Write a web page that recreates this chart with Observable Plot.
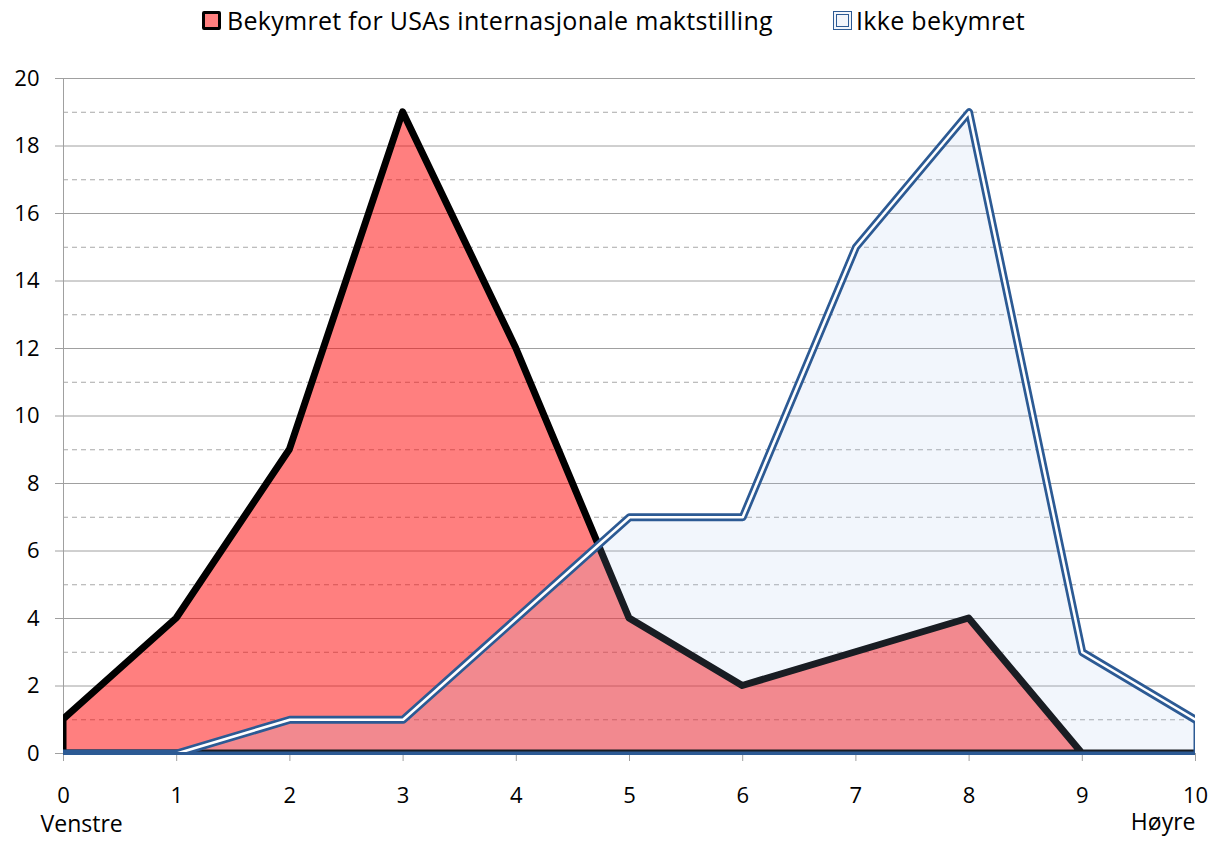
<!DOCTYPE html>
<html><head><meta charset="utf-8">
<script src="https://cdn.jsdelivr.net/npm/d3@7"></script>
<script src="https://cdn.jsdelivr.net/npm/@observablehq/plot@0.6"></script>
<style>
body{margin:0;background:#fff;font-family:"Open Sans",sans-serif;}
#legend{height:45px;position:relative;font-size:25px;letter-spacing:0.3px;color:#000;}
.item{position:absolute;top:3px;display:flex;align-items:center;white-space:nowrap;}
.sw{margin-right:6px;box-sizing:border-box;}
</style></head>
<body>
<div id="legend"></div>
<div id="chart"></div>
<script>
const scale = [0,1,2,3,4,5,6,7,8,9,10];
const bekymret = [1,4,9,19,12,4,2,3,4,0,0];
const ikkeBekymret = [0,0,1,1,4,7,7,15,19,3,1];
const seriesNames = ["Bekymret for USAs internasjonale maktstilling","Ikke bekymret"];
const yTicks = [0,2,4,6,8,10,12,14,16,18,20];
const yMinor = [1,3,5,7,9,11,13,15,17,19];
const leftLabel = [{x:0,label:"Venstre"}];
const rightLabel = [{x:10,label:"Høyre"}];

const red = scale.map((x,i)=>({x, y:bekymret[i]}));
const blue = scale.map((x,i)=>({x, y:ikkeBekymret[i]}));

// legend
const lg = document.getElementById("legend");
lg.innerHTML = `
<div class="item" style="left:202px"><div class="sw" style="background:#ff7f7f;border:3px solid #000;width:19px;height:19px;border-radius:2px"></div>${seriesNames[0]}</div>
<div class="item" style="left:833px"><div class="sw" style="background:#f2f5fb;border:4px double #2c5a94;width:19px;height:19px;margin-right:4px"></div>${seriesNames[1]}</div>`;

const plot = Plot.plot({
  width: 1219, height: 796,
  marginLeft: 63, marginRight: 24, marginTop: 33, marginBottom: 88,
  x: {domain:[0,10]},
  y: {domain:[0,20]},
  style: {fontFamily: "'Open Sans', sans-serif", fontSize: "22px", color:"#000"},
  marks: [
    Plot.ruleY(yMinor, {stroke:"#a8a8a8", strokeDasharray:"5,4", strokeWidth:1}),
    Plot.ruleY(yTicks, {stroke:"#a0a0a0", strokeWidth:1}),
    Plot.ruleX([0], {stroke:"#a0a0a0", strokeWidth:1}),
    Plot.axisY({ticks: yTicks, tickSize: 8, tickPadding: 16, stroke:"#a0a0a0", fontSize:22, tickFormat:d=>d, label:null}),
    Plot.axisX({ticks: scale, tickSize: 8, tickPadding: 26, stroke:"#a0a0a0", fontSize:22, tickFormat:d=>d, label:null}),
    Plot.areaY(red, {x:"x", y:"y", fill:"#ff0000", fillOpacity:0.5, stroke:"#000", strokeWidth:7, strokeLinejoin:"round", clip:true}),
    Plot.areaY(blue, {x:"x", y:"y", fill:"rgb(170,196,232)", fillOpacity:0.15, stroke:"#2c5a94", strokeWidth:3, clip:true}),
    Plot.lineY(blue, {x:"x", y:"y", stroke:"#2c5a94", strokeWidth:8, strokeLinejoin:"round", clip:true}),
    Plot.lineY(blue, {x:"x", y:"y", stroke:"#fff", strokeWidth:2.6, strokeLinejoin:"round", clip:true}),
    Plot.ruleY([0], {stroke:"#2c5a94", strokeWidth:3}),
    Plot.text(leftLabel, {x:"x", text:"label", textAnchor:"start", frameAnchor:"bottom", dy:78, dx:-23, fontSize:23}),
    Plot.text(rightLabel, {x:"x", text:"label", textAnchor:"end", frameAnchor:"bottom", dy:76, fontSize:23})
  ]
});
document.getElementById("chart").appendChild(plot);
</script>
</body></html>
